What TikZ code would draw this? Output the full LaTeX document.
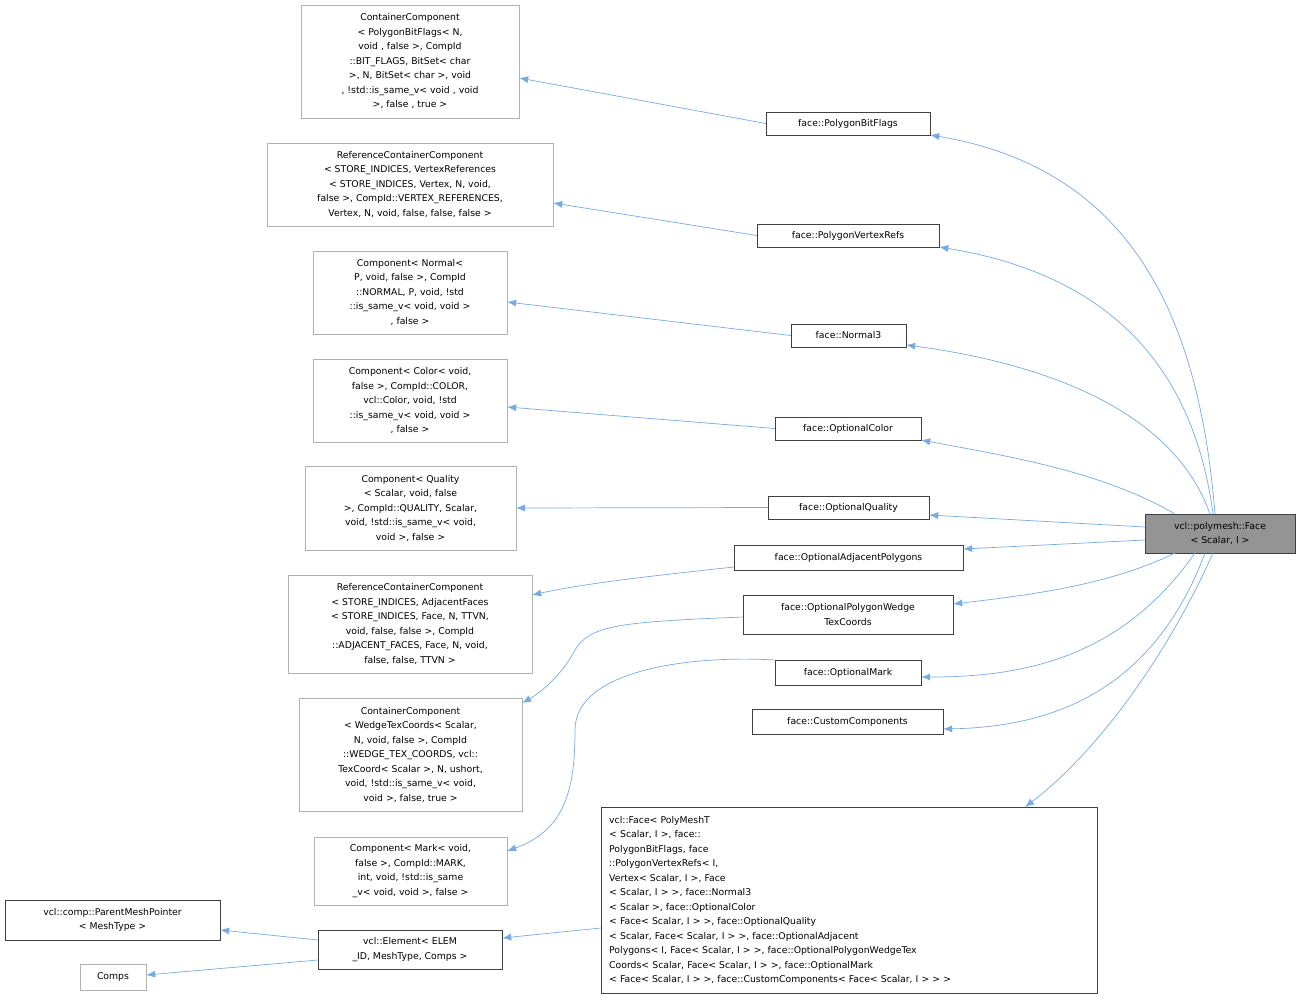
\documentclass[tikz,border=0pt]{standalone}
\usepackage{fontspec}
\setmainfont{DejaVu Sans}
\usetikzlibrary{arrows.meta}
\begin{document}
\begin{tikzpicture}[x=1pt,y=-1pt,
 bx/.style={draw=black!75,fill=white,inner sep=0pt,align=center,font=\fontsize{9.3}{14.5}\selectfont},
 gb/.style={bx,draw=black!30},
 ed/.style={draw=cyan!60!blue!55,line width=0.7pt,-{Latex[length=9pt,width=7pt,fill=cyan!60!blue!55]}}]
\useasboundingbox (0,0) rectangle (1300,999);
\newcommand{\bxat}[7]{\node[#1,minimum width={#5-#3},minimum height={#6-#4}] (#2) at ({(#3+#5)/2},{(#4+#6)/2}) {#7};}
\bxat{gb}{cc1}{301}{5}{519}{118}{ContainerComponent\\< PolygonBitFlags< N,\\ void , false  >, CompId\\::BIT\_FLAGS, BitSet< char\\ >, N, BitSet< char >, void\\ , !std::is\_same\_v< void , void\\ >, false , true >}
\bxat{bx}{pbf}{766}{112}{930}{135}{face::PolygonBitFlags}
\bxat{gb}{rcc}{267}{143}{553}{226}{ReferenceContainerComponent\\< STORE\_INDICES, VertexReferences\\< STORE\_INDICES, Vertex, N, void,\\ false >, CompId::VERTEX\_REFERENCES,\\ Vertex, N, void, false, false, false >}
\bxat{bx}{pvr}{757}{224}{939}{247}{face::PolygonVertexRefs}
\bxat{gb}{cn}{313}{251}{507}{334}{Component< Normal<\\ P, void, false >, CompId\\::NORMAL, P, void, !std\\::is\_same\_v< void, void >\\, false >}
\bxat{bx}{n3}{791}{324}{906}{347}{face::Normal3}
\bxat{gb}{cc}{313}{359}{507}{442}{Component< Color< void,\\ false >, CompId::COLOR,\\ vcl::Color, void, !std\\::is\_same\_v< void, void >\\, false >}
\bxat{bx}{oc}{775}{417}{921}{440}{face::OptionalColor}
\bxat{gb}{cq}{305}{466}{516}{550}{Component< Quality\\< Scalar, void, false\\ >, CompId::QUALITY, Scalar,\\ void, !std::is\_same\_v< void,\\ void >, false >}
\bxat{bx}{oq}{768}{496}{929}{519}{face::OptionalQuality}
\bxat{bx,fill=black!42}{face}{1145}{514}{1295}{553}{vcl::polymesh::Face\\< Scalar, I >}
\bxat{bx}{oap}{734}{545}{963}{570}{face::OptionalAdjacentPolygons}
\bxat{gb}{rca}{288}{575}{532}{673}{ReferenceContainerComponent\\< STORE\_INDICES, AdjacentFaces\\< STORE\_INDICES, Face, N, TTVN,\\ void, false, false >, CompId\\::ADJACENT\_FACES, Face, N, void,\\ false, false, TTVN >}
\bxat{bx}{opw}{743}{595}{953}{634}{face::OptionalPolygonWedge\\TexCoords}
\bxat{gb}{ccw}{299}{698}{522}{811}{ContainerComponent\\< WedgeTexCoords< Scalar,\\ N, void, false >, CompId\\::WEDGE\_TEX\_COORDS, vcl::\\TexCoord< Scalar >, N, ushort,\\ void, !std::is\_same\_v< void,\\ void >, false, true >}
\bxat{bx}{om}{775}{660}{921}{685}{face::OptionalMark}
\bxat{bx}{ccs}{752}{709}{943}{734}{face::CustomComponents}
\bxat{gb}{cm}{314}{837}{507}{905}{Component< Mark< void,\\ false >, CompId::MARK,\\ int, void, !std::is\_same\\\_v< void, void >, false >}
\node[bx,align=left,anchor=north west,minimum width=495pt,minimum height=186pt,text width=480pt,inner xsep=8pt] (vf) at (601,807) {vcl::Face< PolyMeshT\\< Scalar, I >, face::\\PolygonBitFlags, face\\::PolygonVertexRefs< I,\\ Vertex< Scalar, I >, Face\\< Scalar, I > >, face::Normal3\\< Scalar >, face::OptionalColor\\< Face< Scalar, I > >, face::OptionalQuality\\< Scalar, Face< Scalar, I > >, face::OptionalAdjacent\\Polygons< I, Face< Scalar, I > >, face::OptionalPolygonWedgeTex\\Coords< Scalar, Face< Scalar, I > >, face::OptionalMark\\< Face< Scalar, I > >, face::CustomComponents< Face< Scalar, I > > >};
\bxat{bx}{pmp}{5}{900}{220}{940}{vcl::comp::ParentMeshPointer\\< MeshType >}
\bxat{bx}{el}{318}{930}{502}{969}{vcl::Element< ELEM\\\_ID, MeshType, Comps >}
\bxat{gb}{comps}{80}{964}{146}{990}{Comps}
% edges
\draw[ed] (pbf.west) -- (cc1.east |- 0,78);
\draw[ed] (pvr.west) -- (rcc.east |- 0,203);
\draw[ed] (n3.west) -- (cn.east |- 0,302);
\draw[ed] (oc.west) -- (cc.east |- 0,407);
\draw[ed] (oq.west) -- (cq.east |- 0,508);
\draw[ed] (oap.west |- 0,567) .. controls (680,573) and (590,582) .. (rca.east |- 0,595);
\draw[ed] (opw.west |- 0,617) .. controls (620,622) and (590,625) .. (575,650) .. controls (565,670) and (545,690) .. (ccw.east |- 0,703);
\draw[ed] (om.west |- 0,660) .. controls (690,655) and (575,670) .. (575,730) .. controls (575,790) and (565,830) .. (cm.east |- 0,851);
\draw[ed] (face.north |- 0,514) ++(-5,0) .. controls (1200,330) and (1140,170) .. (pbf.east |- 0,135);
\draw[ed] (1213,514) .. controls (1190,340) and (1080,270) .. (pvr.east |- 0,247);
\draw[ed] (1210,514) .. controls (1170,400) and (1020,360) .. (n3.east |- 0,345);
\draw[ed] (1175,514) .. controls (1100,470) and (1000,455) .. (oc.east |- 0,440);
\draw[ed] (face.west |- 0,527) -- (oq.east |- 0,515);
\draw[ed] (face.west |- 0,540) -- (oap.east |- 0,549);
\draw[ed] (1175,553) .. controls (1110,585) and (1030,595) .. (opw.east |- 0,604);
\draw[ed] (1195,553) .. controls (1120,660) and (1020,677) .. (om.east |- 0,677);
\draw[ed] (1205,553) .. controls (1150,700) and (1040,727) .. (ccs.east |- 0,729);
\draw[ed] (1213,553) .. controls (1170,650) and (1100,750) .. (1025,807);
\draw[ed] (vf.west |- 0,928) -- (el.east |- 0,938);
\draw[ed] (el.west |- 0,940) -- (pmp.east |- 0,930);
\draw[ed] (el.west |- 0,960) -- (comps.east |- 0,975);
\end{tikzpicture}
\end{document}
